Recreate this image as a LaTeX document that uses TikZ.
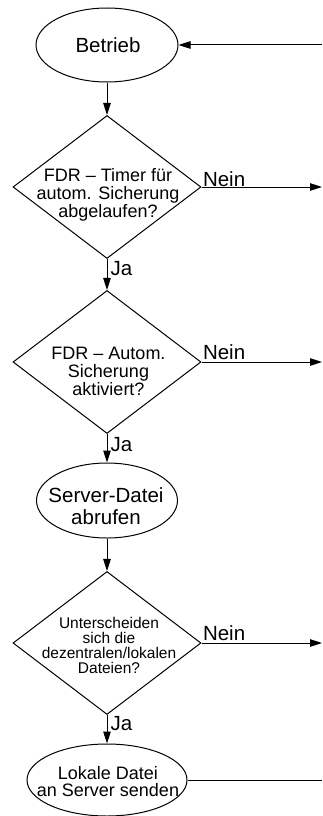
\documentclass[tikz,border=0pt]{standalone}
\usepackage{fontspec}
\setmainfont{Liberation Sans}
\usetikzlibrary{shapes.geometric,arrows.meta}

\begin{document}
\begin{tikzpicture}[x=1pt, y=-1pt, line width=1pt,
		oval/.style={draw, ellipse, inner sep=0pt},
		decision/.style={draw, diamond, inner sep=0pt, minimum width=188pt, minimum height=143pt},
		caption/.style={inner sep=0pt, align=center},
		big/.style={font=\fontsize{20.5}{22.3}\selectfont},
		mid/.style={font=\fontsize{18}{18}\selectfont},
		small/.style={font=\fontsize{15.5}{15}\selectfont},
		arr/.style={-{Triangle[length=12pt, width=7.5pt]}}]
		\useasboundingbox ( 0, 0 ) rectangle ( 322, 816 );

		% рабочий режим
		\node [oval, minimum width=142pt, minimum height=74pt] (start) at ( 107, 45 ) {};
		\node [caption, big] (start-t) at ( 108, 45.2 ) {Betrieb};
		\coordinate (in0) at ( 322, 45 );
		\draw [arr] (in0) -- (start);

		% таймер
		\node [decision] (timer) at ( 107, 187 ) {};
		\node [caption, mid] (timer-t) at ( 108, 195 ) {FDR – Timer für\\autom. Sicherung\\abgelaufen?};
		\draw [arr] (start) -- (timer);
		\coordinate (out1) at ( 322, 187 );
		\draw [arr] (timer) -- (out1);
		\node [caption, big, anchor=base west] (nein1) at ( 202.5, 186 ) {Nein};
		\node [caption, big, anchor=base west] (ja1) at ( 110, 275 ) {Ja};

		% автосохранение включено?
		\node [decision] (auto) at ( 107, 362 ) {};
		\node [caption, mid] (auto-t) at ( 108.5, 371.5 ) {FDR – Autom.\\Sicherung\\aktiviert?};
		\draw [arr] (timer) -- (auto);
		\coordinate (out2) at ( 322, 362 );
		\draw [arr] (auto) -- (out2);
		\node [caption, big, anchor=base west] (nein2) at ( 202.5, 359.5 ) {Nein};
		\node [caption, big, anchor=base west] (ja2) at ( 110, 451.5 ) {Ja};

		% файл с сервера
		\node [oval, minimum width=141pt, minimum height=75pt] (fetch) at ( 107, 500.5 ) {};
		\node [caption, big] (fetch-t) at ( 106, 506.4 ) {Server-Datei\\abrufen};
		\draw [arr] (auto) -- (fetch);

		% сравнение файлов
		\node [decision] (diff) at ( 107, 643 ) {};
		\node [caption, small] (diff-t) at ( 109, 645 ) {Unterscheiden\\sich die\\dezentralen/lokalen\\Dateien?};
		\draw [arr] (fetch) -- (diff);
		\coordinate (out3) at ( 322, 643 );
		\draw [arr] (diff) -- (out3);
		\node [caption, big, anchor=base west] (nein3) at ( 202.5, 640 ) {Nein};
		\node [caption, big, anchor=base west] (ja3) at ( 110, 730.7 ) {Ja};

		% отправка на сервер
		\node [oval, minimum width=160pt, minimum height=72pt] (send) at ( 107, 780 ) {};
		\node [caption, font=\fontsize{18}{17.3}\selectfont] (send-t) at ( 108, 781.5 ) {Lokale Datei\\an Server senden};
		\draw [arr] (diff) -- (send);
		\coordinate (out4) at ( 322, 780 );
		\draw (send) -- (out4);
	\end{tikzpicture}
\end{document}
